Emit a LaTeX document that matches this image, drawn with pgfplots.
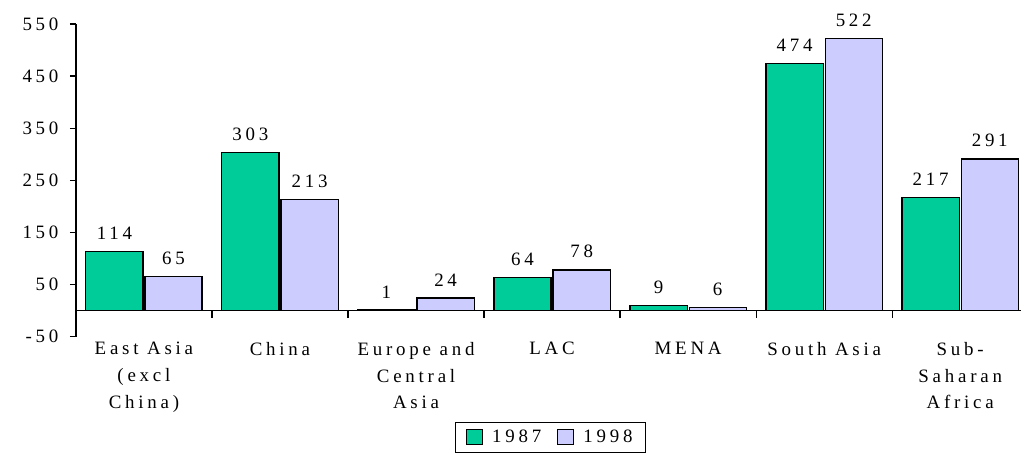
\documentclass[border=0pt]{standalone}
\usepackage{fontspec}
\setmainfont{Liberation Serif}[LetterSpace=20]
\usepackage{pgfplots}
\pgfplotsset{compat=1.18}
\definecolor{cg}{RGB}{0,204,153}
\definecolor{cl}{RGB}{204,204,255}
\begin{document}
\begin{tikzpicture}
\begin{axis}[
  scale only axis, width=946.6bp, height=313bp,
  xmin=-0.5, xmax=6.45, ymin=-50, ymax=550,
  axis y line=left, axis x line=bottom,
  axis line style={-, line width=1.2bp},
  x axis line style={draw=none},
  ytick={-50,50,150,250,350,450,550},
  yticklabels={-50,50,150,250,350,450,550},
  tick align=outside, major tick length=6bp,
  y tick style={line width=1.2bp, black},
  x tick style={draw=none},
  xtick={0,1,2,3,4,5,6},
  xticklabels={{East Asia\\(excl\\China)},{China},{Europe and\\Central\\Asia},{LAC},{MENA},{South Asia},{Sub-\\Saharan\\Africa}},
  xticklabel style={align=center, font=\fontsize{19}{27}\selectfont, yshift=4bp},
  yticklabel style={font=\fontsize{19}{23}\selectfont, xshift=-8bp},
  /pgf/number format/assume math mode=true,
  ybar, bar width=0.42,
  clip=false,
  nodes near coords,
  nodes near coords style={font=\fontsize{19}{23}\selectfont, yshift=8bp},
  legend style={at={(0.5018,-0.2716)}, anchor=north, legend columns=2, draw=black, line width=1bp,
    font=\fontsize{19}{23}\selectfont, inner xsep=11bp, inner ysep=6bp,
    /tikz/every odd column/.append style={column sep=7bp},
    /tikz/every even column/.append style={column sep=14bp}},
  legend image code/.code={\draw[#1, line width=1bp] (0bp,-7.5bp) rectangle (16bp,7.5bp);},
]
\addplot[fill=cg, draw=black, line width=1.2bp] coordinates {(0,114) (1,303) (2,1) (3,64) (4,9) (5,474) (6,217)};
\addplot[fill=cl, draw=black, line width=1.2bp] coordinates {(0,65) (1,213) (2,24) (3,78) (4,6) (5,522) (6,291)};
\legend{1987,1998}
\draw[line width=1.2bp] (axis cs:-0.5,0) -- (axis cs:6.45,0);
\pgfplotsinvokeforeach{0.5,1.5,2.5,3.5,4.5,5.5}{\draw[line width=1.2bp] (axis cs:#1,0) -- ([yshift=-7bp]axis cs:#1,0);}
\path (rel axis cs:-0.0803,1.0767) rectangle (rel axis cs:1,-0.380);
\end{axis}
\end{tikzpicture}
\end{document}
